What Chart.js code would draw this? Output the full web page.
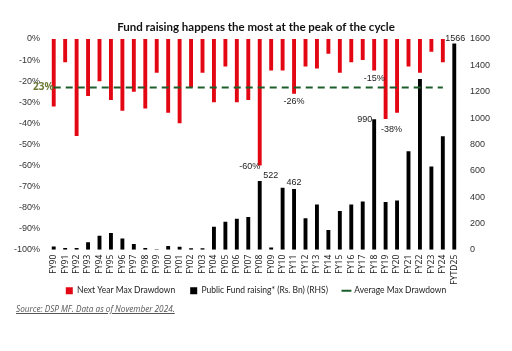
<!DOCTYPE html>
<html>
<head>
<meta charset="utf-8">
<script src="https://cdn.jsdelivr.net/npm/chart.js@4.4.1/dist/chart.umd.min.js"></script>
<style>
  html, body { margin: 0; padding: 0; background: #fff; }
  #wrap { position: relative; width: 512px; height: 351px; }
  #chart { position: absolute; left: 0; top: 0; }
  #source {
    position: absolute; left: 16px; top: 303px;
    font: italic 8.2px "Open Sans", sans-serif; color: #555;
    text-decoration: underline;
  }
</style>
</head>
<body>
<div id="wrap">
  <canvas id="chart" width="512" height="305"></canvas>
  <div id="source">Source: DSP MF. Data as of November 2024.</div>
</div>
<script>
'use strict'

const years = ['FY90', 'FY91', 'FY92', 'FY93', 'FY94', 'FY95', 'FY96', 'FY97', 'FY98', 'FY99',
  'FY00', 'FY01', 'FY02', 'FY03', 'FY04', 'FY05', 'FY06', 'FY07', 'FY08', 'FY09',
  'FY10', 'FY11', 'FY12', 'FY13', 'FY14', 'FY15', 'FY16', 'FY17', 'FY18', 'FY19',
  'FY20', 'FY21', 'FY22', 'FY23', 'FY24', 'FYTD25']

// next year max drawdown, %
const drawdown = [-32, -11, -46, -27, -20, -29, -34, -25, -33, -16,
  -35, -40, -23, -16, -30, -13, -30, -29, -60, -15,
  -15, -26, -13, -14, -7, -16, -11, -10, -15, -38,
  -35, -13, -16, -6, -11, null]

// public fund raising, Rs. Bn
const fundRaising = [25, 13, 13, 56, 107, 127, 86, 43, 13, 3,
  28, 23, 12, 12, 175, 213, 236, 249, 522, 18,
  470, 462, 239, 343, 150, 295, 343, 366, 990, 363,
  373, 747, 1297, 632, 861, 1566]

const avgDrawdown = years.map((y, i) => i < years.length - 1 ? -23 : null)

const leftTicks = [0, -10, -20, -30, -40, -50, -60, -70, -80, -90, -100]
const rightTicks = [0, 200, 400, 600, 800, 1000, 1200, 1400, 1600]

// which bars get a value label
const drawdownLabelIdx = [18, 21, 28, 29]
const fundLabelIdx = [18, 21, 28, 35]

// label placement: [dx, dy, align]
const ddOffsets = { 18: [-10, 1, 'center'], 21: [0, 8, 'center'], 28: [0, 8, 'center'], 29: [6, 10, 'center'] }
const fundOffsets = { 18: [11, -5, 'center'], 21: [0, -6, 'center'], 28: [-2, 0, 'right'], 35: [1, -5, 'center'] }

const valueLabels = {
  id: 'valueLabels',
  afterDatasetsDraw(chart) {
    let ctx = chart.ctx
    ctx.save()
    ctx.font = '9px "Liberation Sans", Arial, sans-serif'
    ctx.fillStyle = '#222'
    ctx.textBaseline = 'middle'
    let red = chart.getDatasetMeta(0)
    drawdownLabelIdx.forEach(i => {
      let bar = red.data[i]
      let o = ddOffsets[i]
      ctx.textAlign = o[2]
      ctx.fillText(drawdown[i] + '%', bar.x + o[0], bar.y + o[1])
    })
    let black = chart.getDatasetMeta(1)
    fundLabelIdx.forEach(i => {
      let bar = black.data[i]
      let o = fundOffsets[i]
      ctx.textAlign = o[2]
      ctx.fillText(String(fundRaising[i]), bar.x + o[0], bar.y + o[1])
    })
    // average value tag on the left
    let yAvg = chart.scales.y.getPixelForValue(-23)
    ctx.font = 'bold 10px "Open Sans", sans-serif'
    ctx.fillStyle = '#6b7a34'
    ctx.textAlign = 'left'
    ctx.fillText('23%', 33, yAvg)
    ctx.restore()
  }
}

const tickFont = { family: '"Liberation Sans", Arial, sans-serif', size: 9 }

new Chart(document.querySelector('#chart'), {
  data: {
    labels: years,
    datasets: [
      {
        type: 'bar',
        label: 'Next Year Max Drawdown',
        data: drawdown,
        backgroundColor: '#e30613',
        yAxisID: 'y',
        grouped: false,
        barPercentage: 0.34,
        categoryPercentage: 1,
        pointStyle: 'rect',
        order: 2
      },
      {
        type: 'bar',
        label: 'Public Fund raising* (Rs. Bn) (RHS)',
        data: fundRaising,
        backgroundColor: '#000',
        yAxisID: 'y2',
        grouped: false,
        barPercentage: 0.34,
        categoryPercentage: 1,
        pointStyle: 'rect',
        order: 3
      },
      {
        type: 'line',
        label: 'Average Max Drawdown',
        data: avgDrawdown,
        borderColor: '#1c5e2c',
        borderWidth: 2,
        borderDash: [7, 5],
        pointRadius: 0,
        yAxisID: 'y',
        pointStyle: 'line',
        order: 1
      }
    ]
  },
  options: {
    responsive: false,
    animation: false,
    layout: { padding: 0 },
    plugins: {
      title: {
        display: true,
        text: 'Fund raising happens the most at the peak of the cycle',
        font: { family: 'Lato, sans-serif', size: 11.5, weight: 'bold' },
        color: '#111',
        padding: { top: 20.7, bottom: 4.5 }
      },
      legend: {
        position: 'bottom',
        labels: {
          usePointStyle: true,
          boxWidth: 7,
          boxHeight: 7,
          padding: 15,
          color: '#222',
          font: { family: 'Lato, sans-serif', size: 8.5 },
          sort: (a, b) => a.datasetIndex - b.datasetIndex,
          generateLabels: chart => {
            let items = Chart.defaults.plugins.legend.labels.generateLabels(chart)
            // legend key of the average line is solid in the original
            items.forEach(it => { it.lineDash = [] })
            return items
          }
        }
      },
      tooltip: { enabled: false }
    },
    scales: {
      x: {
        afterFit: s => {
          s.height = 21.75
          // the rotated labels run past the axis box into the legend band
          s._computeLabelArea = () => undefined
        },
        grid: { display: false, drawTicks: false },
        border: { display: false },
        ticks: {
          autoSkip: false,
          maxRotation: 90,
          minRotation: 90,
          padding: 5,
          color: '#222',
          font: { family: '"Noto Sans", sans-serif', size: 8.5 }
        }
      },
      y: {
        position: 'left',
        min: -100,
        max: 0,
        afterBuildTicks: s => { s.ticks = leftTicks.map(v => ({ value: v })) },
        afterFit: s => { s.width = 48 },
        grid: { display: false, drawTicks: false },
        border: { display: false },
        ticks: {
          padding: 8,
          color: '#333',
          font: tickFont,
          callback: v => v + '%'
        }
      },
      y2: {
        position: 'right',
        min: 0,
        max: 1600,
        afterBuildTicks: s => { s.ticks = rightTicks.map(v => ({ value: v })) },
        afterFit: s => { s.width = 52 },
        grid: { display: false, drawTicks: false },
        border: { display: false },
        ticks: {
          padding: 10,
          color: '#333',
          font: tickFont,
          callback: v => String(v)
        }
      }
    }
  },
  plugins: [valueLabels]
})
</script>
</body>
</html>
